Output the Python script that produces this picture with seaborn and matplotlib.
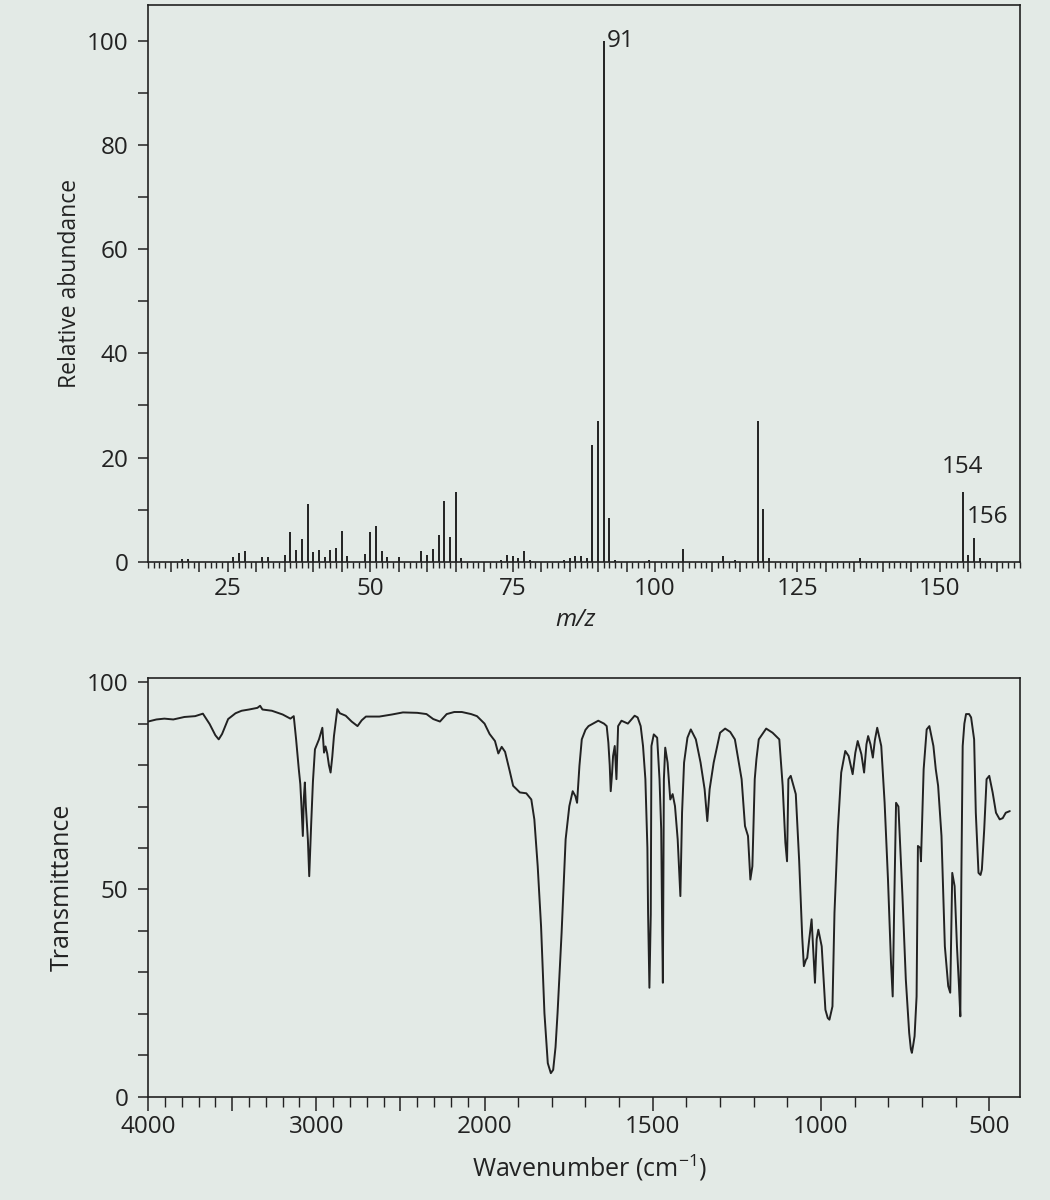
import numpy as np
import matplotlib
matplotlib.use("Agg")
import matplotlib.pyplot as plt
from matplotlib.ticker import MultipleLocator, FixedLocator, FuncFormatter
import seaborn as sns

# ---------------- data ----------------
# Mass spectrum (m/z, relative abundance)
ms_mz = [17, 18, 26, 27, 28, 31, 32, 35, 36, 37, 38, 39, 40, 41, 42, 43, 44, 45, 46,
         49, 50, 51, 52, 53, 55, 59, 60, 61, 62, 63, 64, 65, 66,
         73, 74, 75, 76, 77, 78, 84, 85, 86, 87, 88, 89, 90, 91, 92, 93, 99,
         105, 112, 114, 118, 119, 120, 136, 154, 155, 156, 157]
ms_ab = [0.5, 0.5, 0.8, 1.7, 2.1, 0.8, 0.8, 1.3, 5.7, 2.2, 4.3, 11.1, 1.8, 2.2, 0.8, 2.2, 2.7, 5.9, 1.1,
         1.4, 5.6, 6.9, 2.0, 0.8, 0.9, 2.0, 1.2, 2.5, 5.1, 11.7, 4.7, 13.4, 0.7,
         0.3, 1.3, 1.0, 0.6, 2.0, 0.4, 0.4, 0.7, 1.0, 1.0, 0.6, 22.5, 27.0, 100.0, 8.3, 0.4, 0.4,
         2.4, 1.1, 0.4, 27.0, 10.2, 0.6, 0.7, 13.4, 1.3, 4.5, 0.6]
ms_labels = ["91", "154", "156"]
ms_xticks = [25, 50, 75, 100, 125, 150]

# IR spectrum (wavenumber cm-1, % transmittance)
ir_wn = [4000, 3950, 3903, 3850, 3784, 3720, 3674, 3634, 3600, 3580, 3560, 3524, 3480, 3444, 3400,
         3350, 3334, 3320, 3264, 3200, 3154, 3134, 3120, 3104, 3095, 3088, 3080, 3074, 3068, 3062,
         3050, 3042, 3036, 3030, 3020, 3008, 2984, 2964, 2954, 2945, 2935, 2925, 2915, 2905, 2895,
         2875, 2860, 2825, 2790, 2755, 2730, 2705, 2625, 2550, 2485, 2400, 2345, 2305, 2265, 2225,
         2180, 2135, 2080, 2045, 2020, 2000, 1985, 1969, 1959, 1949, 1939, 1925, 1915, 1895, 1876,
         1861, 1852, 1842, 1832, 1822, 1812, 1803, 1796, 1789, 1783, 1771, 1759, 1748, 1738, 1730,
         1725, 1718, 1711, 1700, 1691, 1662, 1645, 1637, 1632, 1628, 1625, 1621, 1618, 1613, 1608,
         1603, 1593, 1574, 1554, 1545, 1536, 1529, 1522, 1516, 1514, 1510, 1506, 1504, 1497, 1487,
         1480, 1475, 1472, 1470, 1467, 1463, 1456, 1448, 1441, 1434, 1426, 1418, 1413, 1407, 1397,
         1387, 1372, 1358, 1346, 1338, 1331, 1319, 1300, 1285, 1270, 1256, 1236, 1226, 1217, 1210,
         1204, 1197, 1192, 1185, 1163, 1144, 1124, 1114, 1106, 1101, 1097, 1090, 1075, 1065, 1056,
         1051, 1045, 1041, 1035, 1028, 1023, 1018, 1013, 1008, 998, 992, 987, 980, 975, 966,
         960, 950, 940, 928, 918, 906, 898, 891, 880, 872, 865, 860, 853, 846, 840,
         833, 821, 811, 801, 792, 787, 782, 777, 770, 758, 748, 738, 733, 730, 726,
         722, 716, 712, 705, 703, 695, 686, 678, 666, 659, 652, 642, 632, 622, 616,
         613, 610, 603, 596, 590, 586, 583, 579, 574, 569, 560, 554, 545, 540, 532,
         526, 522, 515, 508, 500, 490, 480, 469, 460, 451, 439]
ir_t = [90.5, 91.0, 91.2, 91.0, 91.6, 91.8, 92.4, 89.9, 87.2, 86.2, 87.5, 91.1, 92.5, 93.1, 93.4,
        93.8, 94.3, 93.4, 93.1, 92.2, 91.2, 91.8, 86.2, 79.0, 75.4, 70.0, 62.9, 72.0, 75.8, 70.0,
        62.0, 53.2, 60.0, 66.2, 76.0, 83.8, 86.2, 89.0, 83.0, 84.5, 82.8, 80.0, 78.2, 82.0, 87.0,
        93.5, 92.5, 91.9, 90.5, 89.4, 90.8, 91.7, 91.7, 92.2, 92.7, 92.6, 92.3, 91.1, 90.5, 92.3,
        92.8, 92.8, 92.3, 91.8, 90.8, 90.0, 87.5, 85.8, 82.8, 84.4, 83.2, 78.5, 75.0, 73.4, 73.2,
        71.7, 66.9, 55.6, 41.1, 20.2, 8.1, 5.7, 6.5, 12.0, 20.2, 39.5, 62.1, 70.1, 73.7, 72.5,
        70.9, 79.8, 86.2, 88.5, 89.4, 90.7, 90.0, 89.4, 85.4, 80.0, 73.7, 78.0, 82.2, 84.6, 76.6,
        89.4, 90.7, 90.0, 91.9, 91.5, 89.4, 84.6, 76.6, 60.0, 44.4, 26.3, 44.0, 84.6, 87.4, 86.6,
        76.6, 64.5, 40.0, 27.5, 76.6, 84.2, 80.6, 71.7, 73.0, 70.1, 62.1, 48.4, 68.5, 80.6, 86.6,
        88.6, 86.2, 80.6, 74.2, 66.5, 74.2, 80.6, 87.8, 88.8, 88.0, 86.2, 76.6, 65.3, 62.9, 52.4,
        55.6, 76.6, 81.4, 86.2, 88.8, 87.8, 86.2, 75.0, 61.3, 56.8, 76.6, 77.4, 73.0, 57.0, 38.7,
        31.5, 33.0, 33.5, 38.0, 42.8, 35.0, 27.5, 38.0, 40.3, 36.3, 28.0, 21.0, 19.0, 18.6, 21.8,
        44.4, 64.5, 78.2, 83.4, 82.2, 77.8, 83.0, 85.8, 82.6, 78.2, 85.0, 87.0, 85.0, 81.8, 86.0,
        89.0, 84.6, 70.9, 52.4, 32.3, 24.2, 48.4, 70.9, 70.0, 48.4, 28.3, 15.4, 11.5, 10.6, 12.5,
        14.6, 24.2, 60.5, 60.0, 56.8, 79.0, 88.6, 89.4, 84.6, 79.0, 75.0, 62.9, 36.3, 26.7, 25.1,
        40.0, 54.0, 50.8, 36.3, 26.7, 19.4, 52.4, 84.6, 90.0, 92.3, 92.3, 91.5, 86.2, 68.5, 54.0,
        53.5, 54.8, 64.5, 76.6, 77.4, 73.4, 68.5, 66.9, 67.2, 68.5, 68.9]
ir_major = [4000, 3500, 3000, 2500, 2000, 1500, 1000, 500]
ir_labelled = [4000, 3000, 2000, 1500, 1000, 500]

# ---------------- style ----------------
bg = "#e3eae6"
ink = "#222222"
sns.set_theme(style="ticks")
plt.rcParams["font.family"] = ["Open Sans", "DejaVu Sans"]
plt.rcParams["mathtext.fontset"] = "custom"
plt.rcParams["mathtext.rm"] = "Open Sans"
plt.rcParams["mathtext.it"] = "Open Sans:italic"
plt.rcParams["axes.edgecolor"] = ink
plt.rcParams["axes.linewidth"] = 1.2
plt.rcParams["xtick.color"] = ink
plt.rcParams["ytick.color"] = ink
plt.rcParams["text.color"] = ink
plt.rcParams["axes.labelcolor"] = ink

fig = plt.figure(figsize=(10.5, 12), dpi=100, facecolor=bg)
ax1 = fig.add_axes([0.141, 0.532, 0.830, 0.464])
ax2 = fig.add_axes([0.141, 0.086, 0.830, 0.349])
for ax in (ax1, ax2):
    ax.set_facecolor(bg)
    for s in ax.spines.values():
        s.set_visible(True)
        s.set_linewidth(1.2)
        s.set_color(ink)

tick_fs = 17.5

# ---------------- mass spectrum ----------------
ax1.vlines(ms_mz, 0, ms_ab, color=ink, lw=1.4)
ax1.set_xlim(11, 164)
ax1.set_ylim(0, 107)
ax1.xaxis.set_major_locator(MultipleLocator(5))
ax1.xaxis.set_minor_locator(MultipleLocator(1))
ax1.xaxis.set_major_formatter(FuncFormatter(lambda v, p: f"{int(round(v))}" if int(round(v)) in ms_xticks else ""))
ax1.yaxis.set_major_locator(MultipleLocator(20))
ax1.yaxis.set_minor_locator(MultipleLocator(10))
ax1.tick_params(axis="x", which="major", direction="out", length=7, width=1.1, pad=4, labelsize=tick_fs)
ax1.tick_params(axis="x", which="minor", direction="out", length=4.5, width=1.0)
ax1.tick_params(axis="y", which="both", direction="out", length=7, width=1.1, pad=7, labelsize=tick_fs)
ax1.set_xlabel("m/z", fontsize=tick_fs, fontstyle="italic", va="center")
ax1.xaxis.set_label_coords(0.49, -0.104)
ax1.set_ylabel("Relative abundance", fontsize=16.5, va="center")
ax1.yaxis.set_label_coords(-0.0894, 0.5)

ax1.text(91.6, 100, ms_labels[0], ha="left", va="center", fontsize=tick_fs)
ax1.text(154, 18.2, ms_labels[1], ha="center", va="center", fontsize=tick_fs)
ax1.text(158.4, 8.5, ms_labels[2], ha="center", va="center", fontsize=tick_fs)

# ---------------- IR spectrum ----------------
def fwd(w):
    w = np.asarray(w, dtype=float)
    return np.where(w <= 2000, w, 2000 + (w - 2000) / 2.0)

def inv(p):
    p = np.asarray(p, dtype=float)
    return np.where(p <= 2000, p, 2000 + (p - 2000) * 2.0)

ax2.set_xscale("function", functions=(fwd, inv))
sns.lineplot(x=ir_wn, y=ir_t, ax=ax2, sort=False, estimator=None, color=ink, lw=1.4)
ax2.set_xlim(4000, 410)
ax2.set_ylim(0, 101)
ax2.xaxis.set_major_locator(FixedLocator(ir_major))
ax2.xaxis.set_minor_locator(MultipleLocator(100))
ax2.xaxis.set_major_formatter(FuncFormatter(lambda v, p: f"{int(round(v))}" if int(round(v)) in ir_labelled else ""))
ax2.yaxis.set_major_locator(FixedLocator([0, 50, 100]))
ax2.yaxis.set_minor_locator(MultipleLocator(10))
ax2.tick_params(axis="x", which="major", direction="out", length=10, width=1.1, pad=3, labelsize=tick_fs)
ax2.tick_params(axis="x", which="minor", direction="out", length=7, width=1.0)
ax2.tick_params(axis="y", which="both", direction="out", length=7, width=1.1, pad=7, labelsize=tick_fs)
ax2.set_xlabel("Wavenumber (cm$^{-1}$)", fontsize=18, va="center")
ax2.xaxis.set_label_coords(0.507, -0.169)
ax2.set_ylabel("Transmittance", fontsize=18, va="center")
ax2.yaxis.set_label_coords(-0.0986, 0.5)

fig.savefig("out.png", dpi=100, facecolor=bg)
